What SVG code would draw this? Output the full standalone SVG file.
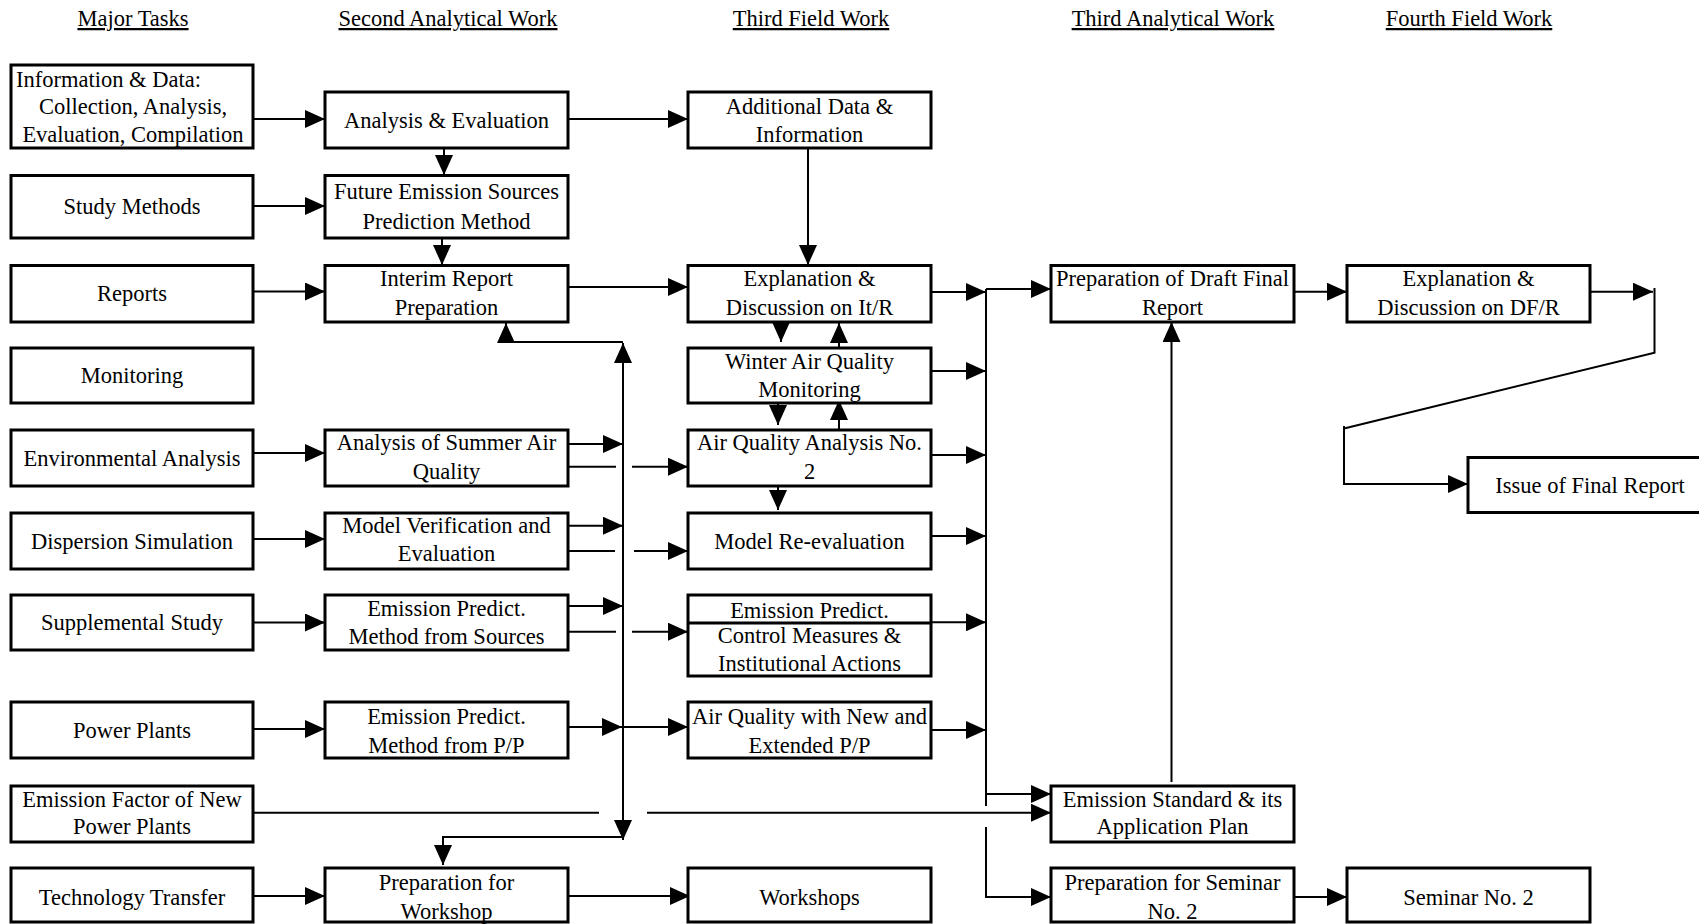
<svg xmlns="http://www.w3.org/2000/svg" width="1699" height="924" viewBox="0 0 1699 924">
<style>
.box{fill:#fff;stroke:#000;stroke-width:3}
text{font-family:"Liberation Serif","Times New Roman",serif;font-size:22.5px;fill:#000;text-anchor:middle}
.hdr{text-decoration:underline}
.c{fill:none;stroke:#000;stroke-width:2}
.a{marker-end:url(#ah)}
</style>
<defs>
<marker id="ah" viewBox="0 0 20 18" refX="20" refY="9" markerWidth="20" markerHeight="18" markerUnits="userSpaceOnUse" orient="auto"><path d="M0 0 L20 9 L0 18 Z" fill="#000"/></marker>
</defs>
<rect width="1699" height="924" fill="#fff"/>
<g id="headers">
<text class="hdr" x="133" y="26">Major Tasks</text>
<text class="hdr" x="448" y="26">Second Analytical Work</text>
<text class="hdr" x="811" y="26">Third Field Work</text>
<text class="hdr" x="1173" y="26">Third Analytical Work</text>
<text class="hdr" x="1469" y="26">Fourth Field Work</text>
</g>
<g id="connectors">
<path class="c a" d="M253 119 H325"/>
<path class="c a" d="M568 119 H688"/>
<path class="c a" d="M444 148 V175"/>
<path class="c a" d="M253 206 H325"/>
<path class="c a" d="M442 238 V265"/>
<path class="c a" d="M249 291.5 H325"/>
<path class="c a" d="M568 287 H688"/>
<path class="c a" d="M808 148 V265"/>
<path class="c a" d="M781 316 V342"/>
<path class="c a" d="M839 348 V323"/>
<path class="c a" d="M778 397 V425"/>
<path class="c a" d="M839 430 V400"/>
<path class="c a" d="M778 480 V510"/>
<path class="c a" d="M251 453 H325"/>
<path class="c a" d="M253 539 H325"/>
<path class="c a" d="M253 622.5 H325"/>
<path class="c a" d="M253 729 H325"/>
<path class="c a" d="M253 896 H325"/>
<path class="c a" d="M568 896 H690"/>
<path class="c a" d="M568 444 H623"/>
<path class="c" d="M568 466.7 H616"/>
<path class="c a" d="M632 466.7 H688"/>
<path class="c a" d="M568 525.7 H623"/>
<path class="c" d="M568 551 H615"/>
<path class="c a" d="M634 551 H688"/>
<path class="c a" d="M568 606 H623"/>
<path class="c" d="M568 631.7 H616"/>
<path class="c a" d="M632 631.7 H688"/>
<path class="c a" d="M566 727 H622"/>
<path class="c a" d="M622 727 H688"/>
<path class="c a" d="M623 600 V343"/>
<path class="c a" d="M623 600 V840"/>
<path class="c a" d="M623 342 H506 V323"/>
<path class="c a" d="M623 837 H443 V865"/>
<path class="c" d="M253 812.7 H599"/>
<path class="c a" d="M647 812.7 H1051"/>
<path class="c a" d="M931 292 H986"/>
<path class="c a" d="M931 371 H986"/>
<path class="c a" d="M931 455 H986"/>
<path class="c a" d="M931 536 H986"/>
<path class="c a" d="M931 622.3 H986"/>
<path class="c a" d="M931 730 H986"/>
<path class="c" d="M986 289 V806"/>
<path class="c a" d="M986 289 H1051"/>
<path class="c a" d="M987 794 H1051"/>
<path class="c a" d="M986 827 V897 H1051"/>
<path class="c a" d="M1171.5 782 V322"/>
<path class="c a" d="M1294 291.7 H1347"/>
<path class="c a" d="M1590 291.7 H1653"/>
<path class="c" d="M1654.5 288 V352.7 L1344 428.5"/>
<path class="c a" d="M1344 426 V484 H1468"/>
<path class="c a" d="M1294 897 H1347"/>
</g>
<g id="n-info"><rect class="box" x="11" y="65" width="242" height="83"/><text x="16" y="87" style="text-anchor:start">Information &amp; Data:</text><text x="133" y="114">Collection, Analysis,</text><text x="133" y="142">Evaluation, Compilation</text></g>
<g id="n-study"><rect class="box" x="11" y="175.5" width="242" height="62.5"/><text x="132" y="214">Study Methods</text></g>
<g id="n-reports"><rect class="box" x="11" y="265.5" width="242" height="56.5"/><text x="132" y="301">Reports</text></g>
<g id="n-monitoring"><rect class="box" x="11" y="348" width="242" height="55"/><text x="132" y="383">Monitoring</text></g>
<g id="n-env"><rect class="box" x="11" y="430" width="242" height="56"/><text x="132" y="465.5">Environmental Analysis</text></g>
<g id="n-disp"><rect class="box" x="11" y="513" width="242" height="56"/><text x="132" y="548.5">Dispersion Simulation</text></g>
<g id="n-supp"><rect class="box" x="11" y="595" width="242" height="55"/><text x="132" y="630">Supplemental Study</text></g>
<g id="n-pp"><rect class="box" x="11" y="702" width="242" height="56"/><text x="132" y="737.5">Power Plants</text></g>
<g id="n-ef"><rect class="box" x="11" y="786" width="242" height="56"/><text x="132" y="807">Emission Factor of New</text><text x="132" y="834">Power Plants</text></g>
<g id="n-tt"><rect class="box" x="11" y="868" width="242" height="54"/><text x="132" y="904.5">Technology Transfer</text></g>

<g id="n-anal"><rect class="box" x="325" y="92" width="243" height="56"/><text x="446.5" y="127.5">Analysis &amp; Evaluation</text></g>
<g id="n-future"><rect class="box" x="325" y="175.5" width="243" height="62.5"/><text x="446.5" y="199">Future Emission Sources</text><text x="446.5" y="228.5">Prediction Method</text></g>
<g id="n-interim"><rect class="box" x="325" y="265.5" width="243" height="56.5"/><text x="446.5" y="286">Interim Report</text><text x="446.5" y="315">Preparation</text></g>
<g id="n-summer"><rect class="box" x="325" y="430" width="243" height="56"/><text x="446.5" y="449.5">Analysis of Summer Air</text><text x="446.5" y="478.5">Quality</text></g>
<g id="n-modelver"><rect class="box" x="325" y="513" width="243" height="56"/><text x="446.5" y="533">Model Verification and</text><text x="446.5" y="561">Evaluation</text></g>
<g id="n-epsrc"><rect class="box" x="325" y="595" width="243" height="55"/><text x="446.5" y="615.5">Emission Predict.</text><text x="446.5" y="643.5">Method from Sources</text></g>
<g id="n-eppp"><rect class="box" x="325" y="702" width="243" height="56"/><text x="446.5" y="723.5">Emission Predict.</text><text x="446.5" y="753">Method from P/P</text></g>
<g id="n-prepws"><rect class="box" x="325" y="868" width="243" height="54"/><text x="446.5" y="889.5">Preparation for</text><text x="446.5" y="918.5">Workshop</text></g>

<g id="n-adddata"><rect class="box" x="688" y="92" width="243" height="56"/><text x="809.5" y="113.5">Additional Data &amp;</text><text x="809.5" y="141.5">Information</text></g>
<g id="n-explit"><rect class="box" x="688" y="265.5" width="243" height="56.5"/><text x="809.5" y="286">Explanation &amp;</text><text x="809.5" y="315">Discussion on It/R</text></g>
<g id="n-winter"><rect class="box" x="688" y="348" width="243" height="55"/><text x="809.5" y="368.5">Winter Air Quality</text><text x="809.5" y="396.5">Monitoring</text></g>
<g id="n-aq2"><rect class="box" x="688" y="430" width="243" height="56"/><text x="809.5" y="449.5">Air Quality Analysis No.</text><text x="809.5" y="478.5">2</text></g>
<g id="n-modelre"><rect class="box" x="688" y="513" width="243" height="56"/><text x="809.5" y="548.5">Model Re-evaluation</text></g>
<g id="n-control"><rect class="box" x="688" y="595" width="243" height="81"/><line x1="688" y1="623" x2="931" y2="623" stroke="#000" stroke-width="3"/><text x="809.5" y="617.5">Emission Predict.</text><text x="809.5" y="642.5">Control Measures &amp;</text><text x="809.5" y="670.5">Institutional Actions</text></g>
<g id="n-aqnew"><rect class="box" x="688" y="702" width="243" height="56"/><text x="809.5" y="723.5">Air Quality with New and</text><text x="809.5" y="753">Extended P/P</text></g>
<g id="n-workshops"><rect class="box" x="688" y="868" width="243" height="54"/><text x="809.5" y="904.5">Workshops</text></g>

<g id="n-draft"><rect class="box" x="1051" y="265.5" width="243" height="56.5"/><text x="1172.5" y="286">Preparation of Draft Final</text><text x="1172.5" y="315">Report</text></g>
<g id="n-std"><rect class="box" x="1051" y="786" width="243" height="56"/><text x="1172.5" y="807">Emission Standard &amp; its</text><text x="1172.5" y="834">Application Plan</text></g>
<g id="n-prepsem"><rect class="box" x="1051" y="868" width="243" height="54"/><text x="1172.5" y="889.5">Preparation for Seminar</text><text x="1172.5" y="918.5">No. 2</text></g>

<g id="n-expldf"><rect class="box" x="1347" y="265.5" width="243" height="56.5"/><text x="1468.5" y="286">Explanation &amp;</text><text x="1468.5" y="315">Discussion on DF/R</text></g>
<g id="n-seminar"><rect class="box" x="1347" y="868" width="243" height="54"/><text x="1468.5" y="904.5">Seminar No. 2</text></g>
<g id="n-issue"><rect class="box" x="1468" y="457.5" width="260" height="55"/><text x="1590" y="492.5">Issue of Final Report</text></g>
</svg>
